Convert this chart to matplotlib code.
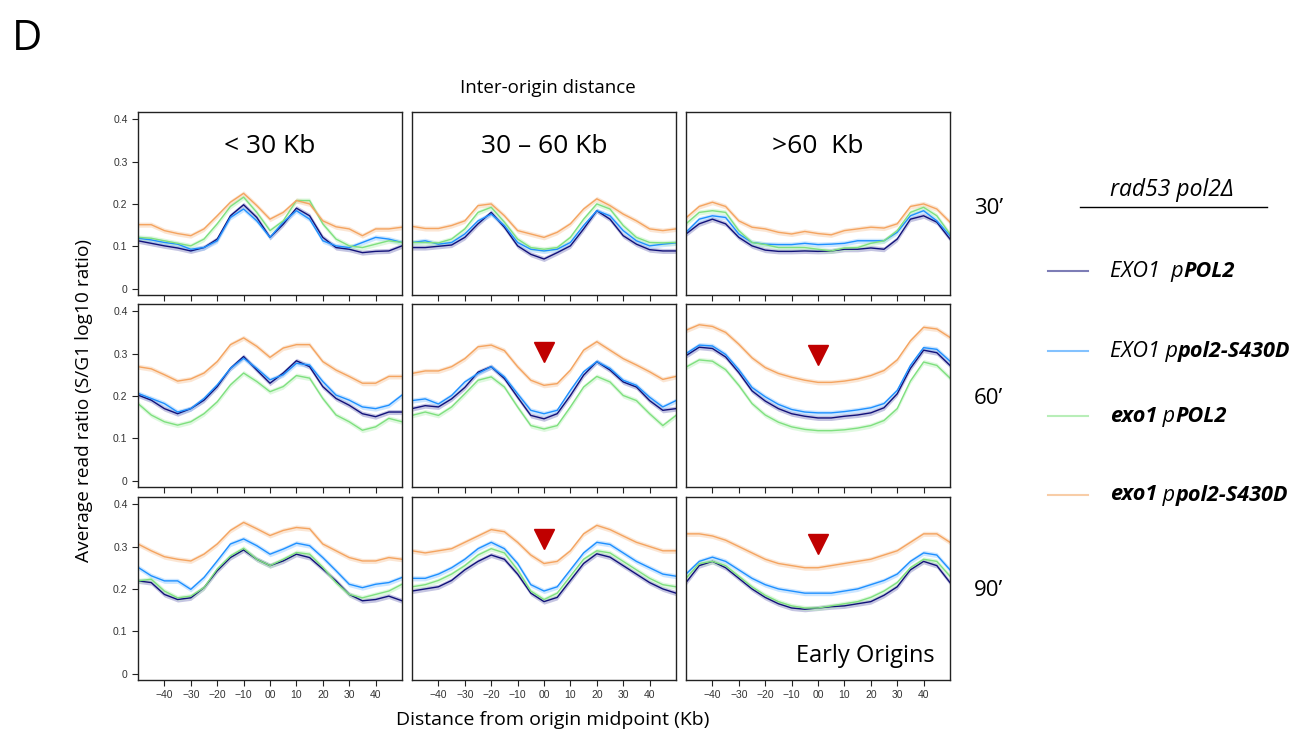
import numpy as np
import matplotlib
matplotlib.use('Agg')
import matplotlib.pyplot as plt

# positions sampled every 5 kb from -50 to 50
kb = np.arange(-50, 51, 5)

# [row][col] -> values, rows = 30', 60', 90'; cols = <30, 30-60, >60 Kb
navy = [
    [[0.113, 0.107, 0.101, 0.096, 0.089, 0.097, 0.117, 0.172, 0.198, 0.168, 0.121, 0.152, 0.190, 0.172, 0.121, 0.097, 0.093, 0.085, 0.088, 0.089, 0.101],
     [0.097, 0.097, 0.100, 0.103, 0.121, 0.153, 0.180, 0.145, 0.101, 0.081, 0.070, 0.085, 0.101, 0.141, 0.184, 0.164, 0.125, 0.105, 0.092, 0.089, 0.089],
     [0.129, 0.153, 0.164, 0.153, 0.121, 0.101, 0.091, 0.088, 0.088, 0.089, 0.088, 0.089, 0.093, 0.093, 0.096, 0.093, 0.117, 0.164, 0.172, 0.157, 0.117]],
    [[0.202, 0.190, 0.170, 0.158, 0.170, 0.190, 0.222, 0.265, 0.293, 0.261, 0.230, 0.254, 0.283, 0.269, 0.222, 0.194, 0.178, 0.158, 0.151, 0.162, 0.162],
     [0.170, 0.177, 0.174, 0.193, 0.220, 0.256, 0.269, 0.241, 0.197, 0.154, 0.146, 0.158, 0.201, 0.249, 0.281, 0.261, 0.233, 0.221, 0.189, 0.166, 0.170],
     [0.295, 0.315, 0.312, 0.292, 0.255, 0.212, 0.188, 0.170, 0.158, 0.152, 0.148, 0.148, 0.152, 0.155, 0.160, 0.172, 0.205, 0.265, 0.308, 0.302, 0.272]],
    [[0.219, 0.215, 0.187, 0.175, 0.179, 0.203, 0.243, 0.274, 0.292, 0.270, 0.255, 0.266, 0.282, 0.274, 0.247, 0.219, 0.187, 0.172, 0.175, 0.183, 0.172],
     [0.195, 0.200, 0.205, 0.220, 0.245, 0.265, 0.280, 0.270, 0.235, 0.190, 0.170, 0.180, 0.220, 0.260, 0.283, 0.275, 0.255, 0.235, 0.215, 0.200, 0.190],
     [0.215, 0.255, 0.265, 0.250, 0.225, 0.200, 0.180, 0.165, 0.155, 0.152, 0.155, 0.158, 0.160, 0.165, 0.170, 0.185, 0.205, 0.245, 0.265, 0.255, 0.215]],
]
blue = [
    [[0.119, 0.115, 0.109, 0.105, 0.093, 0.097, 0.113, 0.168, 0.188, 0.160, 0.121, 0.157, 0.184, 0.164, 0.113, 0.101, 0.097, 0.109, 0.121, 0.117, 0.109],
     [0.109, 0.113, 0.105, 0.109, 0.129, 0.160, 0.176, 0.149, 0.109, 0.093, 0.089, 0.093, 0.109, 0.149, 0.184, 0.172, 0.137, 0.113, 0.101, 0.105, 0.108],
     [0.133, 0.164, 0.172, 0.168, 0.129, 0.109, 0.105, 0.104, 0.104, 0.107, 0.104, 0.105, 0.107, 0.113, 0.113, 0.113, 0.133, 0.172, 0.184, 0.160, 0.125]],
    [[0.206, 0.194, 0.182, 0.162, 0.170, 0.194, 0.226, 0.265, 0.289, 0.265, 0.238, 0.250, 0.277, 0.273, 0.234, 0.202, 0.190, 0.174, 0.170, 0.178, 0.202],
     [0.189, 0.193, 0.181, 0.201, 0.233, 0.253, 0.269, 0.245, 0.205, 0.166, 0.158, 0.166, 0.213, 0.257, 0.281, 0.265, 0.237, 0.225, 0.197, 0.174, 0.189],
     [0.300, 0.320, 0.318, 0.298, 0.262, 0.220, 0.198, 0.180, 0.168, 0.162, 0.160, 0.160, 0.163, 0.167, 0.172, 0.182, 0.213, 0.272, 0.314, 0.310, 0.282]],
    [[0.251, 0.231, 0.219, 0.219, 0.199, 0.227, 0.266, 0.306, 0.318, 0.302, 0.282, 0.294, 0.308, 0.302, 0.274, 0.243, 0.211, 0.203, 0.211, 0.215, 0.227],
     [0.225, 0.225, 0.235, 0.250, 0.270, 0.295, 0.310, 0.295, 0.260, 0.210, 0.195, 0.205, 0.245, 0.285, 0.310, 0.305, 0.285, 0.265, 0.250, 0.235, 0.230],
     [0.235, 0.265, 0.275, 0.265, 0.245, 0.225, 0.210, 0.200, 0.195, 0.190, 0.190, 0.190, 0.195, 0.200, 0.210, 0.220, 0.235, 0.265, 0.285, 0.280, 0.245]],
]
green = [
    [[0.121, 0.119, 0.113, 0.107, 0.101, 0.117, 0.153, 0.194, 0.216, 0.180, 0.137, 0.160, 0.208, 0.208, 0.153, 0.117, 0.101, 0.097, 0.105, 0.113, 0.109],
     [0.109, 0.109, 0.108, 0.117, 0.141, 0.180, 0.192, 0.157, 0.117, 0.097, 0.093, 0.097, 0.121, 0.164, 0.200, 0.188, 0.149, 0.121, 0.109, 0.108, 0.109],
     [0.153, 0.180, 0.184, 0.180, 0.137, 0.109, 0.104, 0.097, 0.097, 0.097, 0.093, 0.089, 0.096, 0.097, 0.107, 0.113, 0.137, 0.180, 0.192, 0.172, 0.129]],
    [[0.182, 0.155, 0.139, 0.131, 0.139, 0.158, 0.186, 0.226, 0.254, 0.234, 0.210, 0.222, 0.248, 0.242, 0.194, 0.155, 0.139, 0.119, 0.127, 0.147, 0.139],
     [0.154, 0.162, 0.154, 0.174, 0.205, 0.237, 0.245, 0.221, 0.174, 0.130, 0.122, 0.130, 0.174, 0.221, 0.246, 0.233, 0.201, 0.189, 0.158, 0.130, 0.154],
     [0.268, 0.285, 0.282, 0.262, 0.225, 0.182, 0.155, 0.138, 0.127, 0.121, 0.118, 0.118, 0.120, 0.124, 0.130, 0.142, 0.170, 0.235, 0.280, 0.272, 0.242]],
    [[0.219, 0.223, 0.195, 0.179, 0.183, 0.203, 0.247, 0.278, 0.296, 0.270, 0.255, 0.270, 0.286, 0.282, 0.251, 0.215, 0.187, 0.179, 0.187, 0.195, 0.211],
     [0.205, 0.210, 0.220, 0.235, 0.255, 0.280, 0.295, 0.285, 0.245, 0.195, 0.175, 0.190, 0.230, 0.270, 0.290, 0.285, 0.265, 0.245, 0.225, 0.210, 0.205],
     [0.225, 0.260, 0.265, 0.255, 0.230, 0.205, 0.185, 0.170, 0.160, 0.155, 0.155, 0.160, 0.165, 0.170, 0.180, 0.195, 0.215, 0.250, 0.270, 0.265, 0.230]],
]
orange = [
    [[0.151, 0.151, 0.137, 0.130, 0.125, 0.141, 0.172, 0.204, 0.225, 0.196, 0.164, 0.180, 0.208, 0.200, 0.160, 0.146, 0.141, 0.125, 0.141, 0.141, 0.145],
     [0.147, 0.142, 0.142, 0.149, 0.160, 0.196, 0.200, 0.172, 0.137, 0.129, 0.121, 0.133, 0.153, 0.188, 0.212, 0.196, 0.176, 0.160, 0.141, 0.137, 0.141],
     [0.167, 0.194, 0.204, 0.194, 0.160, 0.145, 0.141, 0.133, 0.129, 0.135, 0.130, 0.127, 0.137, 0.141, 0.145, 0.143, 0.153, 0.194, 0.200, 0.188, 0.157]],
    [[0.269, 0.264, 0.250, 0.235, 0.240, 0.254, 0.281, 0.321, 0.337, 0.317, 0.291, 0.313, 0.321, 0.321, 0.281, 0.261, 0.246, 0.230, 0.230, 0.246, 0.246],
     [0.253, 0.259, 0.259, 0.269, 0.288, 0.316, 0.320, 0.307, 0.269, 0.237, 0.225, 0.229, 0.261, 0.308, 0.328, 0.308, 0.288, 0.273, 0.257, 0.239, 0.246],
     [0.355, 0.368, 0.364, 0.350, 0.322, 0.290, 0.267, 0.253, 0.244, 0.237, 0.232, 0.232, 0.235, 0.240, 0.248, 0.260, 0.285, 0.330, 0.362, 0.358, 0.338]],
    [[0.306, 0.290, 0.276, 0.270, 0.266, 0.282, 0.306, 0.338, 0.357, 0.342, 0.326, 0.338, 0.345, 0.342, 0.306, 0.290, 0.274, 0.266, 0.266, 0.274, 0.270],
     [0.290, 0.285, 0.290, 0.295, 0.310, 0.325, 0.340, 0.335, 0.310, 0.280, 0.260, 0.265, 0.290, 0.330, 0.350, 0.340, 0.325, 0.310, 0.300, 0.290, 0.290],
     [0.330, 0.330, 0.325, 0.315, 0.300, 0.285, 0.270, 0.260, 0.255, 0.250, 0.250, 0.255, 0.260, 0.265, 0.270, 0.280, 0.290, 0.310, 0.330, 0.330, 0.310]],
]

col_titles = ['< 30 Kb', '30 \u2013 60 Kb', '>60  Kb']
row_labels = ['30\u2019', '60\u2019', '90\u2019']
xticks = [-40, -30, -20, -10, 0, 10, 20, 30, 40]
xticklabels = ['\u221240', '\u221230', '\u221220', '\u221210', '00', '10', '20', '30', '40']
yticks = [0, 0.1, 0.2, 0.3, 0.4]
yticklabels = ['0', '0.1', '0.2', '0.3', '0.4']
# red arrowheads: (row, col, y)
arrows = [(1, 1, 0.303), (1, 2, 0.296), (2, 1, 0.318), (2, 2, 0.307)]

series = [navy, blue, green, orange]
colors = ['#12127a', '#1e90ff', '#7fe07f', '#f4a460']
band_colors = ['#8080c0', '#90c8ff', '#b8f0b8', '#f8c8a0']

W, H = 1304, 734
fig = plt.figure(figsize=(W / 100, H / 100), dpi=100)

lefts = [138, 412, 686]
tops = [112, 304, 497]
pw, ph = 264, 183

axes = {}
for r in range(3):
    for c in range(3):
        ax = fig.add_axes([lefts[c] / W, 1 - (tops[r] + ph) / H, pw / W, ph / H])
        axes[(r, c)] = ax
        for s, col, bc in zip(series, colors, band_colors):
            y = np.array(s[r][c])
            ax.fill_between(kb, y - 0.006, y + 0.006, color=bc, alpha=0.45, lw=0)
            ax.plot(kb, y, color=col, lw=1.0)
        ax.set_xlim(-50, 50)
        ax.set_ylim(-0.015, 0.417)
        ax.set_xticks(xticks)
        ax.tick_params(direction='out', length=4, width=0.8, labelsize=7.5,
                       labelcolor='#333333', color='#222222')
        if r == 2:
            ax.set_xticklabels(xticklabels, family='Liberation Sans')
        else:
            ax.set_xticklabels([])
        if c == 0:
            ax.set_yticks(yticks)
            ax.set_yticklabels(yticklabels, family='Liberation Sans')
        else:
            ax.set_yticks([])
        for sp in ax.spines.values():
            sp.set_color('#222222')
            sp.set_linewidth(1.0)
        if r == 0:
            ax.text(0.5, 0.81, col_titles[c], transform=ax.transAxes, ha='center',
                    va='center', fontsize=19, family='Open Sans')

for r, c, yv in arrows:
    axes[(r, c)].plot([0], [yv], marker='v', ms=15, color='#c00000', mec='#c00000')

axes[(2, 2)].text(0.94, 0.13, 'Early Origins', transform=axes[(2, 2)].transAxes,
                  ha='right', va='center', fontsize=17, family='Open Sans')

for r in range(3):
    fig.text(974 / W, 1 - [209, 399, 591][r] / H, row_labels[r], fontsize=16,
             family='Open Sans', va='center', ha='left')

fig.text(27 / W, 1 - 39 / H, 'D', fontsize=30, family='Open Sans', va='center', ha='center')
fig.text(548 / W, 1 - 88 / H, 'Inter-origin distance', fontsize=13.5, family='Open Sans',
         ha='center', va='center')
fig.text(84 / W, 1 - 400 / H, 'Average read ratio (S/G1 log10 ratio)', rotation=90,
         fontsize=13.8, family='Open Sans', ha='center', va='center')
fig.text(553 / W, 1 - 720 / H, 'Distance from origin midpoint (Kb)', fontsize=14,
         family='Open Sans', ha='center', va='center')

# legend
fig.text(1172 / W, 1 - 190 / H, 'rad53 pol2\u0394', fontsize=16.5, style='italic',
         family='Open Sans', ha='center', va='center')
fig.add_artist(plt.Line2D([1080 / W, 1267 / W], [1 - 207 / H, 1 - 207 / H],
                          color='black', lw=1.0))

legend_rows = [
    [('EXO1  p', 'normal'), ('POL2', 'bold')],
    [('EXO1 p', 'normal'), ('pol2-S430D', 'bold')],
    [('exo1', 'bold'), (' p', 'normal'), ('POL2', 'bold')],
    [('exo1', 'bold'), (' p', 'normal'), ('pol2-S430D', 'bold')],
]
legend_y = [271, 351, 416, 495]
renderer = fig.canvas.get_renderer()
for pieces, ly, col in zip(legend_rows, legend_y, colors):
    yf = 1 - ly / H
    fig.add_artist(plt.Line2D([1048 / W, 1088 / W], [yf, yf], color=col, lw=1.5, alpha=0.55))
    x = 1110
    for txt, wt in pieces:
        t = fig.text(x / W, yf, txt, fontsize=15.6, style='italic', weight=wt,
                     family='Open Sans', ha='left', va='center')
        x = t.get_window_extent(renderer).x1

fig.savefig('out.png', dpi=100)
